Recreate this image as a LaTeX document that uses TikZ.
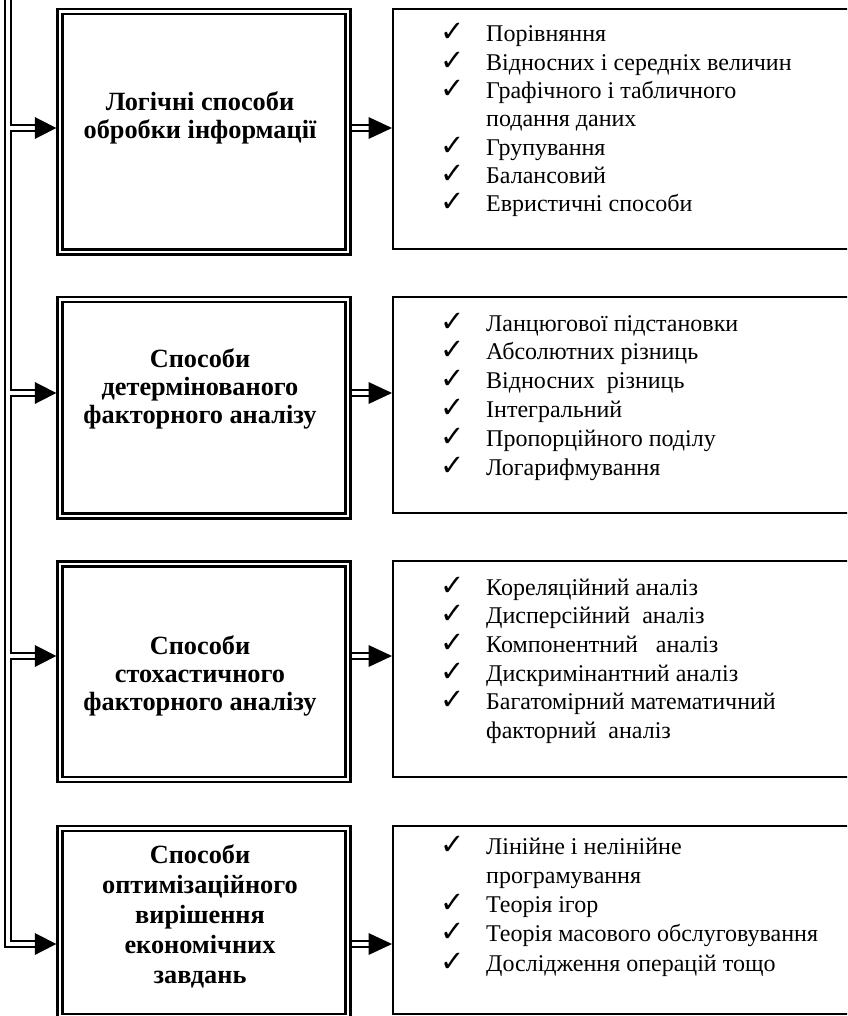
\documentclass[tikz,border=0pt]{standalone}
\usepackage{fontspec}
\setmainfont{Liberation Serif}
\newfontfamily\dejavu{DejaVu Sans}
\newcommand\ck{\makebox[46pt][l]{\dejavu\fontsize{29}{20}\selectfont ✓}}
\newcommand\nock{\makebox[46pt][l]{}}
\begin{document}
\begin{tikzpicture}[x=1pt,y=-1pt,
  lbox/.style={draw, line width=2.3pt, double, double distance=2.7pt, rectangle, inner sep=0pt, outer sep=3.65pt, anchor=north west, minimum width=288pt},
  rbox/.style={draw, line width=2pt, rectangle, inner sep=0pt, anchor=north west, minimum width=480pt},
  ltext/.style={font=\fontsize{26.3}{28}\selectfont\bfseries, align=center, inner sep=0pt},
  rtext/.style={anchor=north west, inner sep=0pt},
  dbl/.style={draw, line width=2pt, double, double distance=4pt},
  head/.style={fill=black},
]
\useasboundingbox (0,0) rectangle (847,1016);
\clip (0,0) rectangle (847,1016);

% left boxes
\node[lbox, minimum height=240.3pt] (L1) at (56.3,8) {};
\node[lbox, minimum height=216.2pt] (L2) at (56.3,296) {};
\node[lbox, minimum height=215.8pt] (L3) at (56.3,560.2) {};
\node[lbox, minimum height=187.8pt] (L4) at (56.3,824.7) {};

% right boxes
\node[rbox, minimum height=240.3pt] (R1) at (392,8) {};
\node[rbox, minimum height=216.2pt] (R2) at (392,296) {};
\node[rbox, minimum height=215.8pt] (R3) at (392,560.2) {};
\node[rbox, minimum height=187.8pt] (R4) at (392,824.7) {};

% left texts
\node[ltext] (L1t) at (200,117.5) {Логічні способи\\обробки інформації};
\node[ltext] (L2t) at (200,388.5) {Способи\\детермінованого\\факторного аналізу};
\node[ltext] (L3t) at (200,675.5) {Способи\\стохастичного\\факторного аналізу};
\node[ltext, font=\fontsize{26.3}{30}\selectfont\bfseries] (L4t) at (200,916.5) {Способи\\оптимізаційного\\вирішення\\економічних\\завдань};

% right texts
\node[rtext] (R1t) at (440,21.9) {\fontsize{24}{28.3}\selectfont
\begin{tabular}{@{}l@{}l@{}}
\ck & Порівняння\\
\ck & Відносних і середніх величин\\
\ck & Графічного і табличного\\
\nock & подання даних\\
\ck & Групування\\
\ck & Балансовий\\
\ck & Евристичні способи
\end{tabular}};
\node[rtext] (R2t) at (440,310.8) {\fontsize{24}{28.8}\selectfont
\begin{tabular}{@{}l@{}l@{}}
\ck & Ланцюгової підстановки\\
\ck & Абсолютних різниць\\
\ck & Відносних\ \ різниць\\
\ck & Інтегральний\\
\ck & Пропорційного поділу\\
\ck & Логарифмування
\end{tabular}};
\node[rtext] (R3t) at (440,574.9) {\fontsize{24}{28.7}\selectfont
\begin{tabular}{@{}l@{}l@{}}
\ck & Кореляційний аналіз\\
\ck & Дисперсійний\ \ аналіз\\
\ck & Компонентний\ \ \ аналіз\\
\ck & Дискримінантний аналіз\\
\ck & Багатомірний математичний\\
\nock & факторний\ \ аналіз
\end{tabular}};
\node[rtext] (R4t) at (440,833.5) {\fontsize{24}{29.25}\selectfont
\begin{tabular}{@{}l@{}l@{}}
\ck & Лінійне і нелінійне\\
\nock & програмування\\
\ck & Теорія ігор\\
\ck & Теорія масового обслуговування\\
\ck & Дослідження операцій тощо
\end{tabular}};

% arrow levels
\coordinate (a1) at (0,128);
\coordinate (a2) at (0,393);
\coordinate (a3) at (0,656);
\coordinate (a4) at (0,944);
\coordinate (T) at (8.3,-5);

% trunk, ending in the bottom arrow
\draw[dbl] (T) -- (T |- a4) -- ([xshift=-21.5pt]L4.west |- a4);
\fill[head] (L4.west |- a4) -- ++(-21.5,-11) -- ++(0,22) -- cycle;

% left arrows
\foreach \i in {1,2,3}{
  \draw[dbl] ([xshift=2pt]T |- a\i) -- ([xshift=-21.5pt]L\i.west |- a\i);
  \fill[head] (L\i.west |- a\i) -- ++(-21.5,-11) -- ++(0,22) -- cycle;
}

% right arrows
\foreach \i in {1,2,3,4}{
  \draw[dbl] (L\i.east |- a\i) -- ([xshift=-23.5pt]R\i.west |- a\i);
  \fill[head] (R\i.west |- a\i) -- ++(-23.5,-11) -- ++(0,22) -- cycle;
}
\end{tikzpicture}
\end{document}
